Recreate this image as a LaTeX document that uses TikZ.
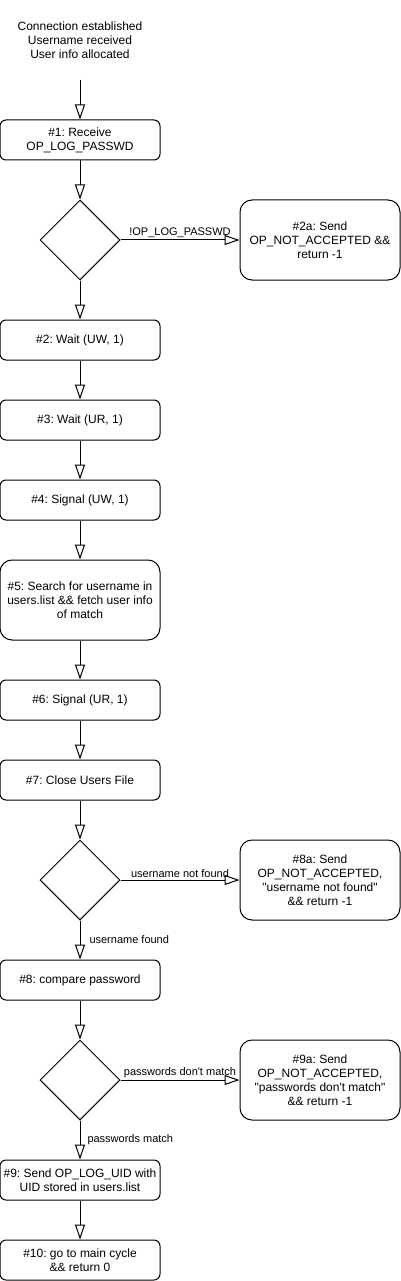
\documentclass[tikz,border=0pt]{standalone}
\usepackage{fontspec}
\setmainfont{Liberation Sans}[Ligatures=TeXOff]
\usetikzlibrary{arrows.meta, shapes.geometric}
\frenchspacing

\begin{document}
\begin{tikzpicture}[x=1pt, y=-1pt, line width=1pt,
  font=\fontsize{12}{14}\selectfont,
  stepbox/.style={draw, rectangle, rounded corners=6pt, minimum width=160pt, minimum height=40pt, align=center, inner sep=0pt},
  tallbox/.style={stepbox, rounded corners=12pt, minimum height=80pt},
  decision/.style={draw, diamond, aspect=1, minimum width=80pt, minimum height=80pt, inner sep=0pt},
  flow/.style={-{Triangle[open, length=15pt, width=10pt]}},
  edgelabel/.style={font=\fontsize{11}{13}\selectfont, inner sep=1pt}]

\useasboundingbox (0,0) rectangle (401,1281);

% entry
\node[align=center] (entry) at (80,40) {Connection established\\Username received\\User info allocated};
\coordinate (entry-out) at (80,80);

% main column
\node[stepbox] (recv) at (80,140) {\#1: Receive\\OP\_LOG\_PASSWD};
\node[decision] (chk) at (80,240) {};
\node[stepbox] (waituw) at (80,340) {\#2: Wait (UW, 1)};
\node[stepbox] (waitur) at (80,420) {\#3: Wait (UR, 1)};
\node[stepbox] (siguw) at (80,500) {\#4: Signal (UW, 1)};
\node[tallbox] (search) at (80,600) {\#5: Search for username in\\users.list \&\& fetch user info\\of match};
\node[stepbox] (sigur) at (80,700) {\#6: Signal (UR, 1)};
\node[stepbox] (close) at (80,780) {\#7: Close Users File};
\node[decision] (found) at (80,880) {};
\node[stepbox] (cmp) at (80,980) {\#8: compare password};
\node[decision] (match) at (80,1080) {};
\node[stepbox] (senduid) at (80,1180) {\#9: Send OP\_LOG\_UID with\\UID stored in users.list};
\node[stepbox] (maincycle) at (80,1260) {\#10: go to main cycle\\\&\& return 0};

% failure column
\node[tallbox] (nack) at (320,240) {\#2a: Send\\OP\_NOT\_ACCEPTED \&\&\\return -1};
\node[tallbox] (nackuser) at (320,880) {\#8a: Send\\OP\_NOT\_ACCEPTED,\\"username not found"\\\&\& return -1};
\node[tallbox] (nackpw) at (320,1080) {\#9a: Send\\OP\_NOT\_ACCEPTED,\\"passwords don't match"\\\&\& return -1};

% connectors
\draw[flow] (entry-out) -- (recv);
\draw[flow] (recv) -- (chk);
\draw[flow] (chk) -- node[edgelabel, above, yshift=1pt] {!OP\_LOG\_PASSWD} (nack);
\draw[flow] (chk) -- (waituw);
\draw[flow] (waituw) -- (waitur);
\draw[flow] (waitur) -- (siguw);
\draw[flow] (siguw) -- (search);
\draw[flow] (search) -- (sigur);
\draw[flow] (sigur) -- (close);
\draw[flow] (close) -- (found);
\draw[flow] (found) -- node[edgelabel, above, yshift=1pt] {username not found} (nackuser);
\draw[flow] (found) -- node[edgelabel, right, xshift=8pt] {username found} (cmp);
\draw[flow] (cmp) -- (match);
\draw[flow] (match) -- node[edgelabel, above, yshift=1pt] {passwords don't match} (nackpw);
\draw[flow] (match) -- node[edgelabel, right, xshift=6pt] {passwords match} (senduid);
\draw[flow] (senduid) -- (maincycle);

\end{tikzpicture}
\end{document}
